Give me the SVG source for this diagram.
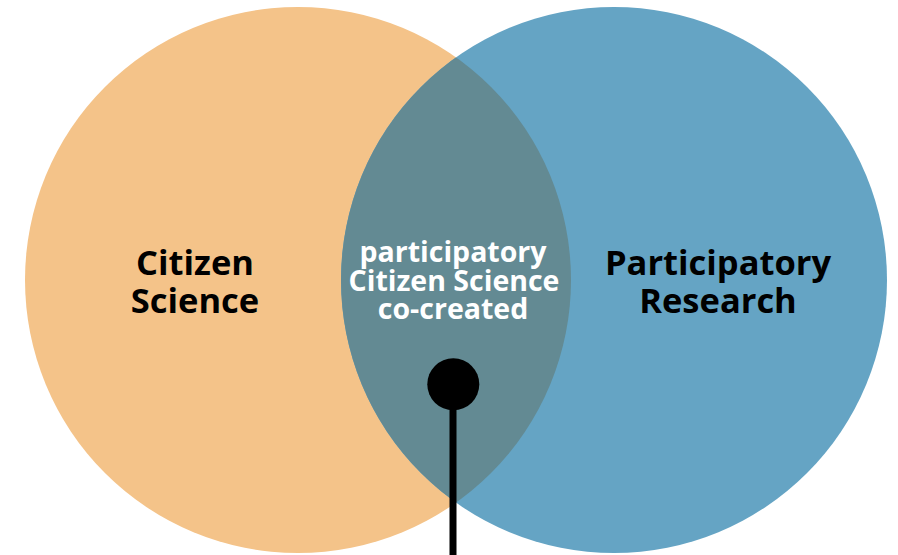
<svg xmlns="http://www.w3.org/2000/svg" width="898" height="555" viewBox="0 0 898 555">
<style>
.lbl{font-family:"Open Sans","Liberation Sans",sans-serif;font-weight:700;text-anchor:middle}
.big{font-size:34.5px;fill:#000}
.mid{font-size:28.5px;fill:#fff}
</style>
<defs>
<clipPath id="clipL"><circle cx="298" cy="280" r="273"/></clipPath>
</defs>
<rect width="898" height="555" fill="#fff"/>
<g id="citizen-science">
<circle cx="298" cy="280" r="273" fill="#F4C389"/>
<text class="lbl big" x="195" y="275">Citizen</text>
<text class="lbl big" x="195" y="313">Science</text>
</g>
<g id="participatory-research">
<circle cx="614" cy="280" r="273" fill="#65A4C4"/>
<text class="lbl big" x="718" y="275">Participatory</text>
<text class="lbl big" x="718" y="313">Research</text>
</g>
<g id="overlap">
<circle cx="614" cy="280" r="273" fill="#638A93" clip-path="url(#clipL)"/>
<text class="lbl mid" x="453" y="262">participatory</text>
<text class="lbl mid" x="454" y="290.5">Citizen Science</text>
<text class="lbl mid" x="453" y="319">co-created</text>
</g>
<g id="connectors">
<line x1="453" y1="384" x2="453" y2="560" stroke="#000" stroke-width="7"/>
<circle cx="453.3" cy="384.3" r="26" fill="#000"/>
</g>
</svg>
